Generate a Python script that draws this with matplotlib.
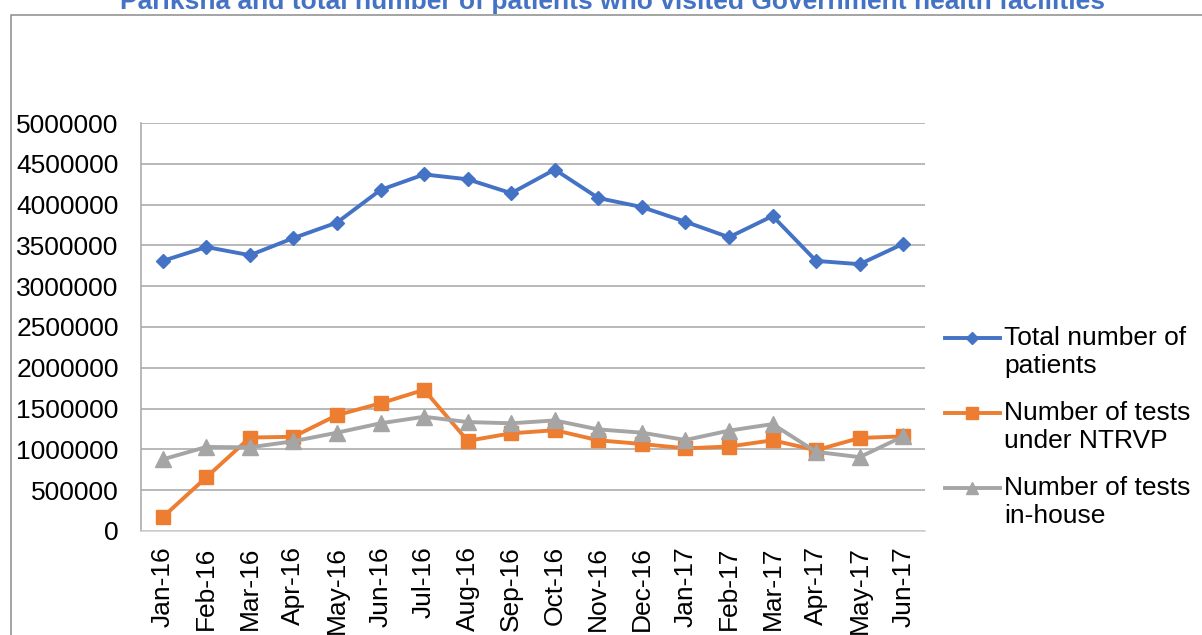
import matplotlib
matplotlib.use("Agg")
import matplotlib.pyplot as plt
from matplotlib.lines import Line2D
from matplotlib.patches import Rectangle

plt.rcParams['font.family'] = ['Liberation Sans', 'DejaVu Sans']

# data
months = ['Jan-16', 'Feb-16', 'Mar-16', 'Apr-16', 'May-16', 'Jun-16', 'Jul-16', 'Aug-16', 'Sep-16',
          'Oct-16', 'Nov-16', 'Dec-16', 'Jan-17', 'Feb-17', 'Mar-17', 'Apr-17', 'May-17', 'Jun-17']
total_patients = [3310000, 3480000, 3380000, 3590000, 3780000, 4180000, 4370000, 4310000, 4140000,
                  4430000, 4080000, 3970000, 3790000, 3600000, 3860000, 3310000, 3270000, 3520000]
tests_ntrvp = [170000, 658000, 1145000, 1155000, 1420000, 1565000, 1730000, 1105000, 1197000,
               1235000, 1112000, 1066000, 1013000, 1035000, 1112000, 990000, 1140000, 1160000]
tests_inhouse = [878000, 1030000, 1025000, 1100000, 1205000, 1320000, 1400000, 1335000, 1320000,
                 1355000, 1245000, 1205000, 1115000, 1230000, 1310000, 970000, 905000, 1160000]
yticks = [0, 500000, 1000000, 1500000, 2000000, 2500000, 3000000, 3500000, 4000000, 4500000, 5000000]

title = 'Pariksha and total number of patients who visited Government health facilities'
labels = ['Total number of\npatients', 'Number of tests\nunder NTRVP', 'Number of tests\nin-house']
colors = ['#4472C4', '#ED7D31', '#A5A5A5']
markers = [('D', 7.5), ('s', 9.5), ('^', 11)]

W, H = 1202, 635
fig = plt.figure(figsize=(W / 100, H / 100), dpi=100)
ax = fig.add_axes([141 / W, 1 - 531 / H, 784 / W, 408 / H])

x = range(len(months))
for series, c, (m, ms) in zip([total_patients, tests_ntrvp, tests_inhouse], colors, markers):
    ax.plot(x, series, color=c, lw=2.8, marker=m, ms=ms, zorder=3)

ax.set_xlim(-0.5, len(months) - 0.5)
ax.set_ylim(0, 5000000)
ax.set_yticks(yticks)
ax.set_yticklabels([str(v) for v in yticks])
ax.set_xticks(list(x))
ax.set_xticklabels(months, rotation=90)
ax.tick_params(axis='y', length=0, pad=16, labelsize=19)
ax.tick_params(axis='x', length=0, pad=11, labelsize=19)

ax.grid(axis='y', color='#A6A6A6', lw=1.1, zorder=0)
for s in ['top', 'right']:
    ax.spines[s].set_visible(False)
ax.spines['left'].set_color('#A6A6A6')
ax.spines['left'].set_linewidth(1.1)
ax.spines['bottom'].set_color('#D0D0D0')
ax.spines['bottom'].set_linewidth(1.1)

# legend drawn by hand: handle sits on the first text line, like Excel does
leg_y = [338, 413, 488]
for yy, lab, c, (m, ms) in zip(leg_y, labels, colors, markers):
    fy = 1 - yy / H
    fig.add_artist(Line2D([945 / W, 1000 / W], [fy, fy], color=c, lw=2.8,
                          transform=fig.transFigure))
    fig.add_artist(Line2D([972 / W], [fy], color=c, marker=m, ms=ms * 0.85, lw=0,
                          transform=fig.transFigure))
    fig.text(1004 / W, fy + 12 / H, lab, ha='left', va='top', fontsize=19, linespacing=1.2)

fig.text(613 / W, 1 - 9 / H, title, ha='center', va='baseline', fontsize=19,
         fontweight='bold', color='#4472C4')

fig.patches.append(Rectangle((11 / W, -0.1), 1.5, 1 - 15 / H + 0.1, transform=fig.transFigure,
                             fill=False, edgecolor='#8C8C8C', lw=1.1))

fig.savefig('out.png', dpi=100)
